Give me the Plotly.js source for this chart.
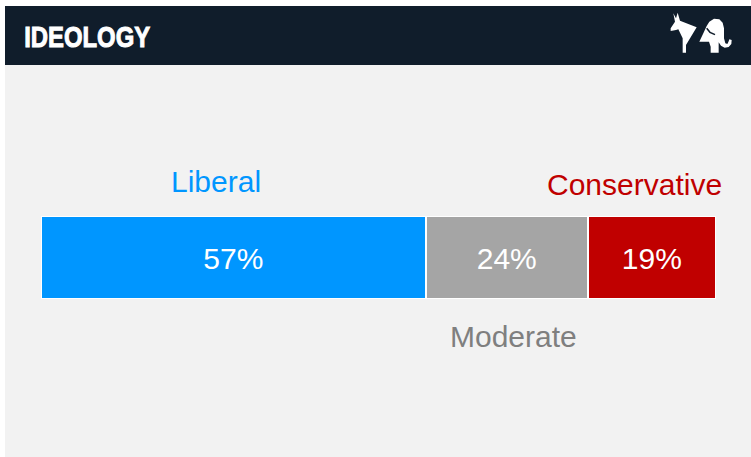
<!DOCTYPE html>
<html><head><meta charset="utf-8">
<script src="https://cdn.plot.ly/plotly-3.0.1.min.js"></script>
<style>html,body{margin:0;padding:0;background:#fff;overflow:hidden}</style>
</head><body><div id="chart" style="width:751px;height:457px"></div>
<script>
const categories = ['Liberal', 'Moderate', 'Conservative'];
const values = [57, 24, 19];
const colors = ['#0096FF', '#A5A5A5', '#C00000'];
const labelColors = ['#0096FF', '#7F7F7F', '#C00000'];
const labelPos = [[216, 181], [513, 336], [634, 184]];
const title = 'IDEOLOGY';
const W = 751, H = 457;
const px = x => x / W, py = y => 1 - y / H;
const ix = x => px(640 + x / 3), iy = y => py(y / 3);
function path(pts, open) {
  return 'M' + pts.map(p => ix(p[0]).toFixed(5) + ',' + iy(p[1]).toFixed(5)).join(' L') + (open ? '' : ' Z');
}
const donkey = [[100,40],[108,55],[113,38],[120,62],[170,82],[138,135],[138,158],[128,158],[128,115],[115,88],[108,90],[92,93],[92,85],[105,65]];
const elephant = [[178,125],[190,100],[200,78],[208,65],[222,56],[238,58],[248,68],[252,85],[252,115],[256,130],[262,132],[266,124],[268,118],[275,120],[274,132],[266,141],[254,143],[243,137],[236,127],[236,158],[212,158],[212,140],[207,125]];
const earLine = [[200,85],[210,97],[225,104]];
const traces = categories.map((c, i) => ({
  type: 'bar', orientation: 'h', name: c,
  x: [values[i]], y: ['Ideology'],
  marker: {color: colors[i], line: {color: '#FFFFFF', width: 2}},
  text: [values[i] + '%'], textposition: 'inside', insidetextanchor: 'middle', textangle: 0,
  textfont: {color: '#FFFFFF', size: 30, family: 'Liberation Sans'},
  hoverinfo: 'skip', cliponaxis: false
}));
const layout = {
  width: W, height: H, margin: {l: 0, r: 0, t: 0, b: 0},
  paper_bgcolor: '#FFFFFF', plot_bgcolor: 'rgba(0,0,0,0)',
  showlegend: false, barmode: 'stack', bargap: 0,
  xaxis: {domain: [px(41), px(716)], range: [0, 100], visible: false, fixedrange: true},
  yaxis: {domain: [py(299), py(216)], visible: false, fixedrange: true},
  shapes: [
    {type: 'rect', xref: 'paper', yref: 'paper', x0: px(5), x1: 1, y0: 0, y1: py(65), fillcolor: '#F2F2F2', line: {width: 0}, layer: 'below'},
    {type: 'rect', xref: 'paper', yref: 'paper', x0: px(5), x1: 1, y0: py(65), y1: py(6), fillcolor: '#101D2B', line: {width: 0}, layer: 'below'},
    {type: 'path', xref: 'paper', yref: 'paper', path: path(donkey), fillcolor: '#FFFFFF', line: {width: 0}},
    {type: 'path', xref: 'paper', yref: 'paper', path: path(elephant), fillcolor: '#FFFFFF', line: {width: 0}},
    {type: 'path', xref: 'paper', yref: 'paper', path: path(earLine, true), line: {color: '#101D2B', width: 1.5}}
  ],
  annotations: [
    {xref: 'paper', yref: 'paper', x: px(87), y: py(36), xanchor: 'center', yanchor: 'middle', showarrow: false,
     text: '<b>' + title + '</b>', font: {family: 'Liberation Sans', size: 30, color: '#FFFFFF'}}
  ].concat(categories.map((c, i) => ({
    xref: 'paper', yref: 'paper', x: px(labelPos[i][0]), y: py(labelPos[i][1]),
    xanchor: 'center', yanchor: 'middle', showarrow: false, text: c,
    font: {family: 'Liberation Sans', size: 30, color: labelColors[i]}
  })))
};
Plotly.newPlot('chart', traces, layout, {displayModeBar: false, staticPlot: true}).then(() => {
  const t = document.querySelector('.annotation .annotation-text');
  if (t) {
    t.setAttribute('textLength', '126');
    t.setAttribute('lengthAdjust', 'spacingAndGlyphs');
    t.style.stroke = '#FFFFFF';
    t.style.strokeWidth = '1px';
  }
  document.querySelectorAll('.bartext').forEach(b => {
    b.setAttribute('transform', (b.getAttribute('transform') || '') + ' translate(0,1)');
  });
});
</script></body></html>
